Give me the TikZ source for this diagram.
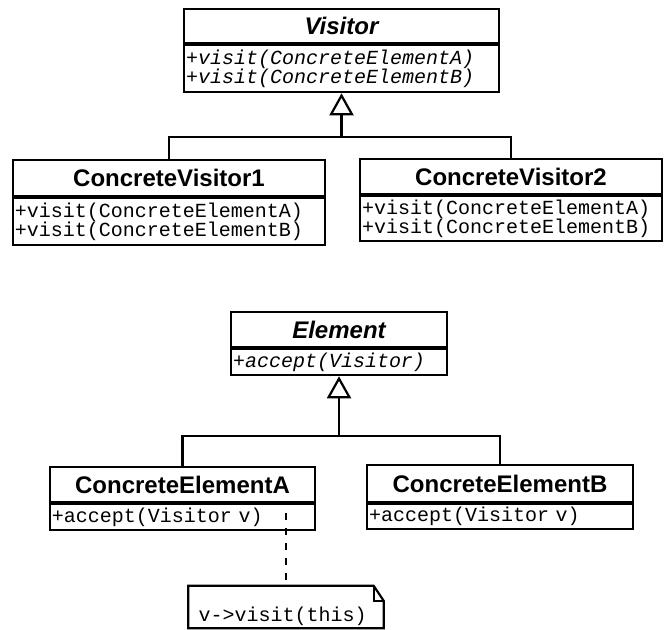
\documentclass[tikz,border=0pt]{standalone}
\usepackage{fontspec}
\setmainfont{Liberation Sans}
\newfontfamily\monof{Liberation Mono}
\usetikzlibrary{arrows.meta,calc}

\tikzset{
  umlline/.style={line width=2.2pt},
  classtitle/.style={draw, umlline, inner sep=0pt,
    font=\bfseries\fontsize{24}{28}\selectfont},
  opsbox/.style={draw, umlline, inner xsep=2pt, inner ysep=0pt, align=left,
    font=\monof\fontsize{20}{19.5}\selectfont},
  connector/.style={line width=2.2pt},
  inherit/.style={connector, -{Triangle[open, length=22pt, width=24pt]}},
  notelink/.style={line width=2.6pt, dash pattern=on 7pt off 8pt},
  notebox/.style={inner xsep=10pt, inner ysep=0pt, align=left,
    font=\monof\fontsize{20}{19}\selectfont}
}

\begin{document}
\begin{tikzpicture}[x=1pt, y=-1pt]
  \useasboundingbox (0,0) rectangle (665,630);
  \fill[white] (0,0) rectangle (665,630);

  % Visitor hierarchy
  \node[classtitle, minimum width=315pt, minimum height=34pt] (visT) at (341.5,26) {\itshape Visitor};
  \node[opsbox, anchor=north, text width=311pt, minimum height=47pt] (visO) at (visT.south)
    {\itshape +visit(ConcreteElementA)\\\itshape +visit(ConcreteElementB)};

  \node[classtitle, minimum width=312pt, minimum height=36pt] (cv1T) at (169,178) {ConcreteVisitor1};
  \node[opsbox, anchor=north, text width=308pt, minimum height=47pt] (cv1O) at (cv1T.south)
    {+visit(ConcreteElementA)\\+visit(ConcreteElementB)};

  \node[classtitle, minimum width=302pt, minimum height=35pt] (cv2T) at (511,176.5) {ConcreteVisitor2};
  \node[opsbox, anchor=north, text width=298pt, minimum height=45pt] (cv2O) at (cv2T.south)
    {+visit(ConcreteElementA)\\+visit(ConcreteElementB)};

  \coordinate (visJoin) at (341.5,137);
  \draw[connector] (cv1T.north) |- (visJoin) -| (cv2T.north);
  \draw[inherit] (visJoin) -- (visO.south);

  % Element hierarchy
  \node[classtitle, minimum width=216pt, minimum height=35pt] (elT) at (339,329.5) {\itshape Element};
  \node[opsbox, anchor=north, text width=212pt, minimum height=26pt] (elO) at (elT.south)
    {\itshape +accept(Visitor)};

  \node[classtitle, minimum width=265pt, minimum height=35pt] (ceaT) at (182.5,484.5) {ConcreteElementA};
  \node[opsbox, anchor=north, text width=261pt, minimum height=26pt] (ceaO) at (ceaT.south)
    {+accept(Visitor v)};

  \node[classtitle, minimum width=266pt, minimum height=37pt] (cebT) at (500,483.5) {ConcreteElementB};
  \node[opsbox, anchor=north, text width=262pt, minimum height=25pt] (cebO) at (cebT.south)
    {+accept(Visitor v)};

  \coordinate (elJoin) at (339,436);
  \draw[connector] (ceaT.north) |- (elJoin) -| (cebT.north);
  \draw[inherit] (elJoin) -- (elO.south);

  % Note attached to accept(), text set low in the box
  \node[notebox, minimum width=195pt, minimum height=42pt, text width=175pt] (note) at (286,607)
    {\raisebox{-14pt}[0pt][0pt]{v->visit(this)}};
  \draw[umlline] (note.north west) -- ($(note.north east)+(-10,0)$)
    -- ($(note.north east)+(0,15)$) -- (note.south east) -- (note.south west) -- cycle;
  \draw[umlline, line width=1.6pt] ($(note.north east)+(-10,0)$) -- ($(note.north east)+(-10,15)$)
    -- ($(note.north east)+(0,15)$);
  \coordinate (linkStart) at (note.north |- 0,513);
  \draw[notelink] (linkStart) -- (note.north);
\end{tikzpicture}
\end{document}
